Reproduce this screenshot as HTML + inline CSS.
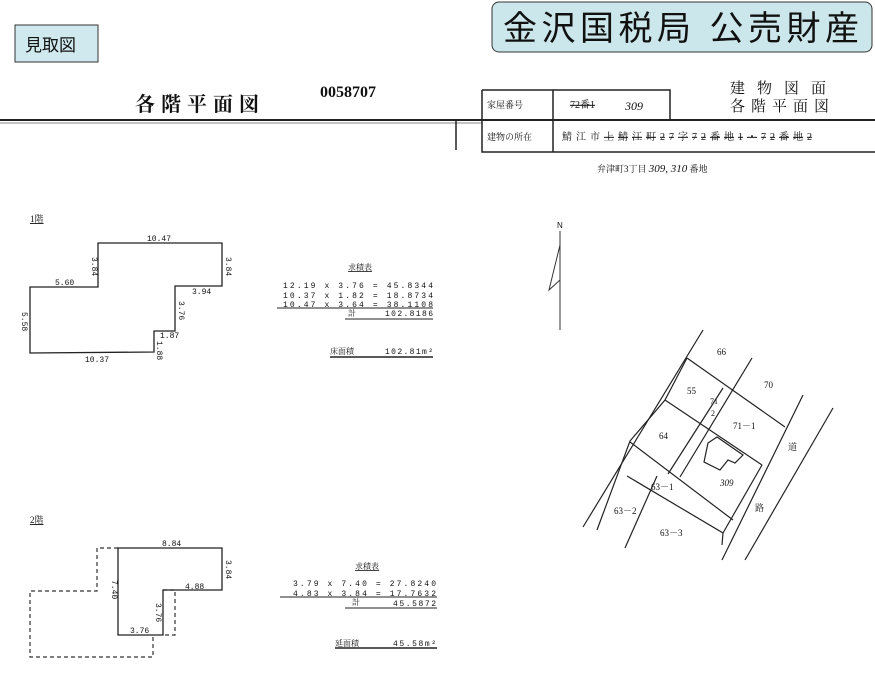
<!DOCTYPE html>
<html><head><meta charset="utf-8"><style>
body{margin:0;background:#fff}
svg{display:block}
text{font-family:"Liberation Serif","Noto Serif CJK SC","Noto Sans CJK JP",serif;fill:#111}
.m{font-family:"Liberation Mono",monospace;font-size:8px}
.s{font-family:"Liberation Sans","Noto Sans CJK JP",sans-serif}
</style></head><body>
<svg width="875" height="681" viewBox="0 0 875 681" xmlns="http://www.w3.org/2000/svg">
<rect x="15" y="25" width="83" height="37" fill="#cfe9ee" stroke="#333" stroke-width="1"/>
<text x="25" y="51" class="s" font-size="17">見取図</text>
<rect x="492" y="2" width="380" height="50" rx="7" fill="#cce7eb" stroke="#333" stroke-width="1"/>
<text x="503" y="40" class="s" font-size="34" textLength="356" lengthAdjust="spacing">金沢国税局 公売財産</text>

<text x="135" y="111" font-size="20" letter-spacing="6" font-weight="bold">各階平面図</text>
<text x="320" y="97" font-size="16" font-weight="bold">0058707</text>
<line x1="0" y1="120" x2="875" y2="120" stroke="#222" stroke-width="2"/>
<line x1="0" y1="123" x2="482" y2="123" stroke="#888" stroke-width="1"/>
<line x1="456" y1="120" x2="456" y2="150" stroke="#222" stroke-width="1.5"/>
<path d="M482 90 H670 V120 M482 90 V152 H875 M482 120 H875 M553 90 V152" fill="none" stroke="#222" stroke-width="1.5"/>
<text x="487" y="108" font-size="9">家屋番号</text>
<text x="570" y="108" font-size="10" text-decoration="line-through">72番1</text>
<text x="625" y="110" font-size="12" font-style="italic">309</text>
<text x="487" y="140" font-size="9">建物の所在</text>
<text x="562" y="140" font-size="10" textLength="250" lengthAdjust="spacing">鯖江市<tspan text-decoration="line-through">上鯖江町27字72番地1・72番地2</tspan></text>
<text x="730" y="93" font-size="15" letter-spacing="12">建物図面</text>
<text x="730" y="111" font-size="15" letter-spacing="6">各階平面図</text>
<text x="597" y="172" font-size="9">弁津町3丁目 <tspan font-style="italic" font-size="11">309, 310</tspan> 番地</text>

<!-- 1F -->
<text x="30" y="222" font-size="9" text-decoration="underline">1階</text>
<path d="M30 287 H98 V243 H222 V286 H175 V331 H154 V352 L30 353 Z" fill="none" stroke="#222" stroke-width="1.3"/>
<text x="147" y="241" class="m">10.47</text>
<text x="55" y="285" class="m">5.60</text>
<text x="192" y="294" class="m">3.94</text>
<text x="85" y="362" class="m">10.37</text>
<text x="160" y="338" class="m" font-size="6">1.87</text>
<text class="m" transform="translate(92,257) rotate(90)">3.84</text>
<text class="m" transform="translate(226,257) rotate(90)">3.84</text>
<text class="m" transform="translate(179,301) rotate(90)">3.76</text>
<text class="m" transform="translate(22,312) rotate(90)">5.58</text>
<text class="m" transform="translate(157,341) rotate(90)" font-size="6">1.88</text>
<text x="348" y="270" font-size="8" text-decoration="underline">求積表</text>
<text x="283" y="288" class="m" textLength="150" lengthAdjust="spacing">12.19 x  3.76 =    45.8344</text>
<text x="283" y="298" class="m" textLength="150" lengthAdjust="spacing">10.37 x  1.82 =    18.8734</text>
<text x="283" y="307" class="m" textLength="150" lengthAdjust="spacing">10.47 x  3.64 =    38.1108</text>
<line x1="277" y1="308" x2="433" y2="308" stroke="#222"/>
<text x="348" y="316" font-size="8">計</text>
<text x="385" y="316" class="m" textLength="48" lengthAdjust="spacing">102.8186</text>
<line x1="345" y1="319" x2="433" y2="319" stroke="#222"/>
<text x="330" y="354" font-size="8">床面積</text>
<text x="385" y="354" class="m" textLength="48" lengthAdjust="spacing">102.81m²</text>
<line x1="330" y1="357" x2="433" y2="357" stroke="#222" stroke-width="1.5"/>

<!-- 2F -->
<text x="30" y="523" font-size="9" text-decoration="underline">2階</text>
<path d="M118 548 H97 V591 H30 V657 H153 V635 M163 590 H175 V635 H163" fill="none" stroke="#333" stroke-width="1.2" stroke-dasharray="4,3"/>
<path d="M118 548 H222 V590 H163 V635 H118 Z" fill="none" stroke="#222" stroke-width="1.3"/>
<text x="162" y="546" class="m" font-size="7">8.84</text>
<text x="185" y="589" class="m" font-size="7">4.88</text>
<text x="130" y="633" class="m" font-size="7">3.76</text>
<text class="m" transform="translate(112,580) rotate(90)" font-size="7">7.40</text>
<text class="m" transform="translate(226,560) rotate(90)" font-size="7">3.84</text>
<text class="m" transform="translate(156,603) rotate(90)" font-size="7">3.76</text>
<text x="355" y="569" font-size="8" text-decoration="underline">求積表</text>
<text x="293" y="586" class="m" textLength="143" lengthAdjust="spacing">3.79 x  7.40 =    27.8240</text>
<text x="293" y="596" class="m" textLength="143" lengthAdjust="spacing">4.83 x  3.84 =    17.7632</text>
<line x1="280" y1="597" x2="437" y2="597" stroke="#222"/>
<text x="352" y="605" font-size="8">計</text>
<text x="393" y="606" class="m" textLength="43" lengthAdjust="spacing">45.5872</text>
<line x1="345" y1="608" x2="437" y2="608" stroke="#222"/>
<text x="335" y="646" font-size="8">延面積</text>
<text x="393" y="646" class="m" textLength="43" lengthAdjust="spacing">45.58m²</text>
<line x1="335" y1="648" x2="437" y2="648" stroke="#222" stroke-width="1.5"/>

<!-- north -->
<text x="557" y="228" font-size="8" class="s">N</text>
<line x1="560" y1="231" x2="560" y2="330" stroke="#333"/>
<path d="M560 245 L549 290 L560 280" fill="none" stroke="#333"/>

<!-- map -->
<g fill="none" stroke="#222" stroke-width="1.2">
<path d="M583 527 L703 330"/>
<path d="M597 530 L630 441 L665 400 L687 358"/>
<path d="M625 548 L657 476"/>
<path d="M687 358 L785 427"/>
<path d="M665 400 L762 465"/>
<path d="M630 442 L733 520"/>
<path d="M627 476 L723 533 L722 545"/>
<path d="M752 358 L680 477"/>
<path d="M723 388 L668 474"/>
<path d="M803 395 L722 560"/>
<path d="M833 408 L745 560"/>
<path d="M762 465 L723 533"/>
<path d="M708 443 L717 437 L743 455 L735 463 L728 460 L720 470 L704 462 Z"/>
</g>
<g class="s" font-size="9">
<text x="717" y="355">66</text><text x="764" y="388">70</text>
<text x="687" y="394">55</text><text x="733" y="429">71－1</text>
<text x="659" y="439">64</text><text x="651" y="490">63－1</text>
<text x="614" y="514">63－2</text><text x="660" y="536">63－3</text>
<text x="710" y="404" font-size="8">71</text><text x="711" y="416" font-size="8">2</text>
<text x="788" y="450">道</text><text x="755" y="511">路</text>
<text x="720" y="486" font-style="italic">309</text>
</g>
</svg>
</body></html>
